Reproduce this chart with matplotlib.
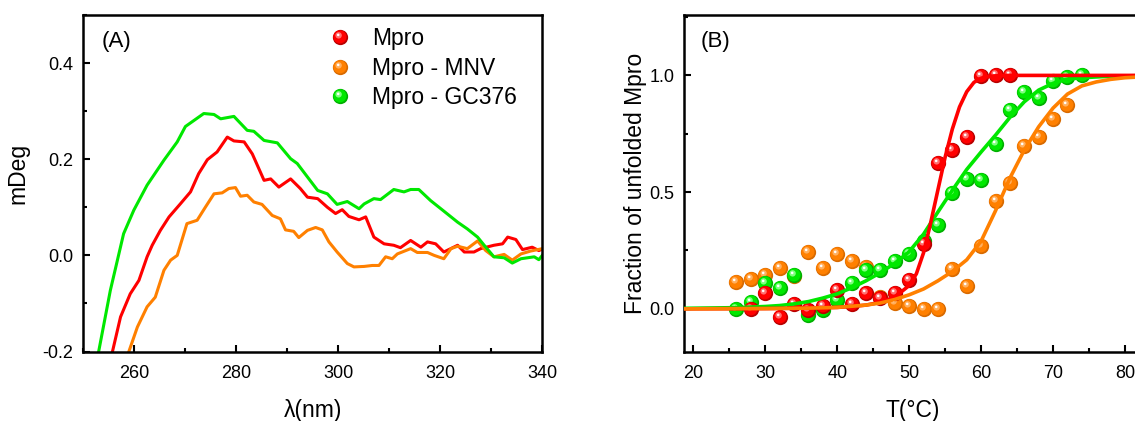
import numpy as np
import matplotlib
matplotlib.use("Agg")
import matplotlib.pyplot as plt
from matplotlib.path import Path
from matplotlib.lines import Line2D
from matplotlib.legend_handler import HandlerTuple
from matplotlib.ticker import MultipleLocator

plt.rcParams['font.family'] = ['Liberation Sans', 'DejaVu Sans']

# ---------------------------------------------------------------------------
# Panel A: CD spectra
# ---------------------------------------------------------------------------
wl_mpro = [255.8, 257.4, 259.3, 261.0, 262.6, 263.6, 265.2, 266.9, 269.1, 271.1,
           272.7, 274.4, 276.3, 278.3, 279.6, 281.6, 283.2, 285.5, 286.8, 288.4,
           290.7, 292.6, 294.0, 296.0, 297.9, 299.5, 300.8, 302.1, 304.1, 305.4,
           307.0, 309.0, 310.9, 312.2, 314.2, 316.2, 317.5, 319.1, 320.7, 323.4,
           324.7, 326.6, 327.9, 330.5, 332.2, 333.2, 334.8, 336.1, 338.0, 339.3, 340.2]
cd_mpro = [-0.201, -0.128, -0.080, -0.052, -0.003, 0.021, 0.052, 0.080, 0.107, 0.132,
           0.170, 0.199, 0.215, 0.246, 0.238, 0.236, 0.211, 0.156, 0.159, 0.142,
           0.159, 0.139, 0.121, 0.118, 0.100, 0.087, 0.095, 0.081, 0.074, 0.080,
           0.038, 0.024, 0.021, 0.016, 0.031, 0.017, 0.028, 0.024, 0.007, 0.021,
           0.007, 0.007, 0.014, 0.021, 0.024, 0.038, 0.033, 0.012, 0.017, 0.010, 0.014]

wl_mnv = [259.0, 260.7, 262.6, 264.2, 265.9, 267.2, 268.5, 270.4, 272.4, 274.0,
          275.7, 277.3, 278.6, 279.9, 280.9, 282.2, 283.5, 285.1, 287.1, 288.7,
          289.7, 291.3, 292.3, 294.0, 295.6, 296.9, 298.2, 299.8, 301.8, 303.1,
          305.1, 306.7, 308.0, 309.3, 310.6, 311.6, 314.2, 315.5, 317.5, 318.8,
          320.7, 322.1, 323.4, 325.3, 327.3, 328.9, 330.5, 332.5, 334.1, 335.8,
          337.7, 340.0]
cd_mnv = [-0.201, -0.149, -0.107, -0.087, -0.031, -0.010, 0.000, 0.066, 0.073, 0.100,
          0.128, 0.130, 0.139, 0.141, 0.123, 0.125, 0.111, 0.106, 0.083, 0.076,
          0.053, 0.050, 0.037, 0.052, 0.058, 0.053, 0.028, 0.007, -0.017, -0.024,
          -0.023, -0.021, -0.021, -0.003, -0.007, 0.003, 0.014, 0.006, 0.006, 0.000,
          -0.007, 0.014, 0.019, 0.014, 0.030, 0.010, -0.003, 0.002, -0.010, 0.003,
          0.009, 0.014]

wl_gc = [253.1, 255.4, 258.0, 260.0, 262.6, 265.9, 268.5, 270.1, 273.7, 275.7,
         277.0, 279.6, 282.2, 283.5, 285.5, 288.1, 290.7, 292.0, 294.0, 296.0,
         297.9, 299.8, 301.8, 304.1, 305.1, 307.0, 308.3, 310.9, 312.9, 314.2,
         315.8, 318.1, 320.7, 323.4, 325.3, 327.3, 328.6, 330.5, 332.5, 334.1,
         335.8, 338.4, 339.3, 340.2]
cd_gc = [-0.201, -0.073, 0.045, 0.094, 0.146, 0.198, 0.236, 0.268, 0.295, 0.293,
         0.284, 0.289, 0.260, 0.258, 0.239, 0.234, 0.201, 0.191, 0.163, 0.135,
         0.128, 0.106, 0.112, 0.097, 0.107, 0.118, 0.116, 0.137, 0.132, 0.137,
         0.137, 0.114, 0.092, 0.069, 0.055, 0.038, 0.021, -0.003, -0.005, -0.016,
         -0.007, -0.003, -0.009, 0.003]

# ---------------------------------------------------------------------------
# Panel B: thermal unfolding
# ---------------------------------------------------------------------------
t_mpro = [28, 30, 32, 34, 36, 38, 40, 42, 44, 46, 48, 50, 52, 54, 56, 58, 60, 62, 64]
f_mpro = [0.0, 0.067, -0.036, 0.021, -0.004, 0.010, 0.079, 0.021, 0.069, 0.047,
          0.067, 0.122, 0.279, 0.625, 0.680, 0.737, 0.997, 1.003, 1.0]

t_gc = [26, 28, 30, 32, 34, 36, 38, 40, 42, 44, 46, 48, 50, 52, 54, 56, 58, 60,
        62, 64, 66, 68, 70, 72, 74]
f_gc = [0.0, 0.029, 0.110, 0.089, 0.143, -0.026, -0.007, 0.039, 0.110, 0.165,
        0.167, 0.207, 0.236, 0.29, 0.361, 0.498, 0.558, 0.554, 0.705, 0.851,
        0.931, 0.904, 0.976, 0.994, 1.001]

t_mnv = [26, 28, 30, 32, 34, 36, 38, 40, 42, 44, 46, 48, 50, 52, 54, 56, 58, 60,
         62, 64, 66, 68, 70, 72]
f_mnv = [0.114, 0.126, 0.147, 0.175, 0.14, 0.243, 0.175, 0.236, 0.207, 0.179,
         0.05, 0.024, 0.014, 0.0, 0.0, 0.172, 0.096, 0.268, 0.461, 0.539,
         0.697, 0.737, 0.815, 0.873]

# fitted curves
fit_t_mpro = [18.7, 30, 36, 40, 42, 44, 46, 48, 50, 51, 52, 53, 54, 55, 56, 57,
              58, 59, 60, 61, 62, 64, 70, 85]
fit_f_mpro = [0.0, 0.001, 0.003, 0.006, 0.010, 0.016, 0.028, 0.05, 0.10, 0.15,
              0.24, 0.37, 0.51, 0.65, 0.77, 0.865, 0.93, 0.97, 0.988, 0.995,
              0.998, 1.0, 1.0, 1.0]

fit_t_gc = [18.7, 26, 30, 32, 34, 36, 38, 40, 42, 44, 46, 48, 50, 52, 54, 56,
            58, 60, 62, 64, 66, 68, 70, 72, 74, 77, 80, 85]
fit_f_gc = [0.002, 0.005, 0.010, 0.014, 0.021, 0.031, 0.046, 0.064, 0.09, 0.12,
            0.155, 0.195, 0.245, 0.32, 0.415, 0.508, 0.597, 0.672, 0.744, 0.82,
            0.887, 0.937, 0.966, 0.984, 0.99, 0.995, 0.998, 1.0]

fit_t_mnv = [18.7, 30, 36, 40, 44, 46, 48, 50, 52, 54, 56, 58, 60, 62, 64, 66,
             68, 70, 72, 74, 76, 78, 80, 85]
fit_f_mnv = [0.0, 0.001, 0.003, 0.006, 0.016, 0.025, 0.04, 0.06, 0.085, 0.12,
             0.16, 0.21, 0.29, 0.42, 0.56, 0.68, 0.78, 0.86, 0.92, 0.955,
             0.972, 0.983, 0.99, 0.998]

RED = '#ff0000'
ORANGE = '#ff8000'
GREEN = '#00e800'
DARK = {RED: '#b80000', ORANGE: '#d86a00', GREEN: '#00b000'}
LIGHT = {RED: '#ff7070', ORANGE: '#ffb060', GREEN: '#80ff80'}


def spot(cx, cy, r):
    # circle marker placed off-centre inside a unit frame
    c = Path.circle((cx, cy), r)
    verts = np.vstack([c.vertices, [[1, 1], [-1, -1]]])
    codes = np.concatenate([c.codes, [Path.MOVETO, Path.MOVETO]])
    return Path(verts, codes)


LAYERS = [
    (spot(0, 0, 1.0), 'dark'),
    (spot(-0.08, 0.08, 0.86), 'main'),
    (spot(-0.25, 0.28, 0.42), 'light'),
    (spot(-0.3, 0.34, 0.17), 'white'),
]


def layer_color(color, kind):
    return {'dark': DARK[color], 'main': color, 'light': LIGHT[color], 'white': 'white'}[kind]


def ball_lines(ax, x, y, color, ms=11, zorder=2):
    for mk, kind in LAYERS:
        ax.plot(x, y, ls='none', marker=mk, ms=ms, mfc=layer_color(color, kind),
                mec='none', zorder=zorder)


def ball_handle(color, ms=11):
    return tuple(Line2D([], [], ls='none', marker=mk, ms=ms,
                        mfc=layer_color(color, kind), mec='none')
                 for mk, kind in LAYERS)


def style_axes(ax):
    for s in ax.spines.values():
        s.set_linewidth(1.8)
    ax.tick_params(which='both', direction='in', top=False, right=False, width=1.5)
    ax.tick_params(which='major', length=5, labelsize=13)
    ax.tick_params(which='minor', length=3)
    ax.tick_params(axis='x', pad=10)
    ax.tick_params(axis='y', pad=7)


fig = plt.figure(figsize=(11.35, 4.21), dpi=100)

# ----- panel A -----
axA = fig.add_axes([0.0729, 0.165, 0.405, 0.7995])
axA.plot(wl_mpro, cd_mpro, color=RED, lw=2.2)
axA.plot(wl_mnv, cd_mnv, color=ORANGE, lw=2.2)
axA.plot(wl_gc, cd_gc, color=GREEN, lw=2.2)
axA.set_xlim(250, 340)
axA.set_ylim(-0.2, 0.5)
axA.xaxis.set_major_locator(MultipleLocator(20))
axA.xaxis.set_minor_locator(MultipleLocator(10))
axA.yaxis.set_minor_locator(MultipleLocator(0.1))
axA.set_yticks([-0.2, 0.0, 0.2, 0.4])
axA.set_yticklabels(['-0.2', '0.0', '0.2', '0.4'])
style_axes(axA)
axA.set_xlabel('λ(nm)', fontsize=16.5)
axA.set_ylabel('mDeg', fontsize=16.5)
axA.xaxis.set_label_coords(0.5, -0.14)
axA.yaxis.set_label_coords(-0.117, 0.53)
axA.text(0.04, 0.92, '(A)', transform=axA.transAxes, fontsize=16, va='center')

handles = [ball_handle(RED), ball_handle(ORANGE), ball_handle(GREEN)]
axA.legend(handles, ['Mpro', 'Mpro - MNV', 'Mpro - GC376'],
           handler_map={tuple: HandlerTuple(ndivide=1, pad=0)},
           loc='upper left', bbox_to_anchor=(0.534, 0.963), frameon=False,
           fontsize=16.5, borderpad=0, borderaxespad=0, handlelength=1.0,
           handletextpad=0.92, labelspacing=0.28)

# ----- panel B -----
axB = fig.add_axes([0.6026, 0.165, 0.4203, 0.7995])
ball_lines(axB, t_mnv, f_mnv, ORANGE, zorder=2)
ball_lines(axB, t_gc, f_gc, GREEN, zorder=3)
ball_lines(axB, t_mpro, f_mpro, RED, zorder=4)
axB.plot(fit_t_gc, fit_f_gc, color=GREEN, lw=2.6, zorder=5)
axB.plot(fit_t_mpro, fit_f_mpro, color=RED, lw=2.6, zorder=6)
axB.plot(fit_t_mnv, fit_f_mnv, color=ORANGE, lw=2.6, zorder=7)
axB.set_xlim(18.7, 85)
axB.set_ylim(-0.183, 1.259)
axB.xaxis.set_major_locator(MultipleLocator(10))
axB.xaxis.set_minor_locator(MultipleLocator(5))
axB.yaxis.set_major_locator(MultipleLocator(0.5))
axB.yaxis.set_minor_locator(MultipleLocator(0.25))
style_axes(axB)
axB.set_xlabel('T(°C)', fontsize=16.5)
axB.set_ylabel('Fraction of unfolded Mpro', fontsize=16.5)
axB.xaxis.set_label_coords(0.48, -0.14)
axB.yaxis.set_label_coords(-0.078, 0.5)
axB.text(0.035, 0.92, '(B)', transform=axB.transAxes, fontsize=16, va='center')

fig.savefig('out.png', dpi=100)
